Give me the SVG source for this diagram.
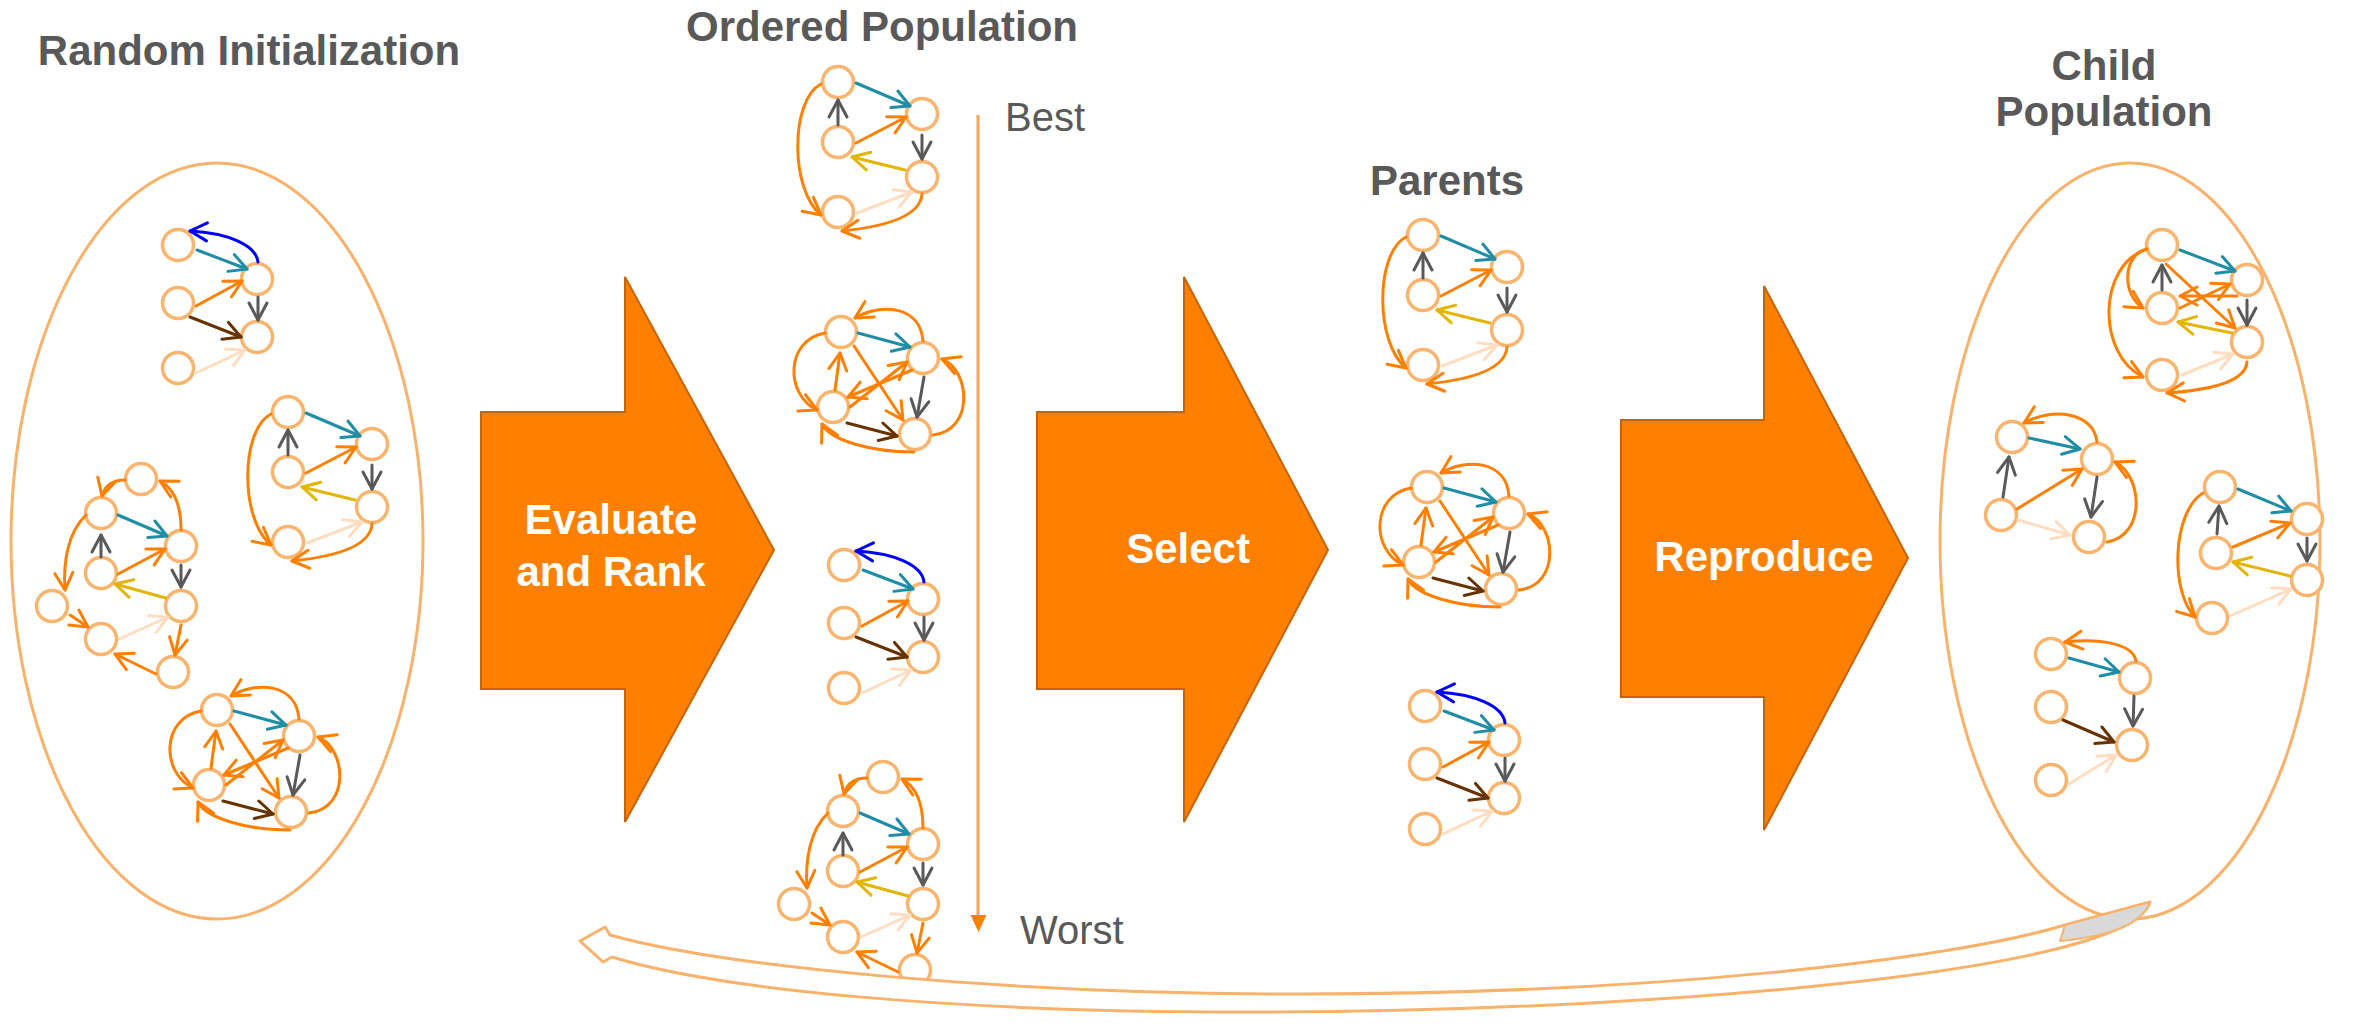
<svg xmlns="http://www.w3.org/2000/svg" xmlns:xlink="http://www.w3.org/1999/xlink" width="2374" height="1034" viewBox="0 0 2374 1034">
  <style>
    .title { font-family: "Liberation Sans", Arial, sans-serif; font-weight: bold; font-size: 42px; fill: #595959; }
    .rank { font-family: "Liberation Sans", Arial, sans-serif; font-size: 40px; fill: #595959; }
    .step { font-family: "Liberation Sans", Arial, sans-serif; font-weight: bold; font-size: 42px; fill: #ffffff; text-anchor: middle; }
    .pop { fill: none; stroke: #F9B26B; stroke-width: 3; }
    .n { fill: #ffffff; stroke: #F9B46E; stroke-width: 3.5; }
    .e { fill: none; stroke-width: 3; stroke-linecap: round; }
    .teal { stroke: #1F8DA5; marker-end: url(#m-teal); }
    .or { stroke: #FF8000; marker-end: url(#m-or); }
    .gray { stroke: #595959; marker-end: url(#m-gray); }
    .brown { stroke: #663300; marker-end: url(#m-brown); }
    .yel { stroke: #E3B505; marker-end: url(#m-yel); }
    .peach { stroke: #FFDDC1; marker-end: url(#m-peach); }
    .blue { stroke: #0000FF; marker-end: url(#m-blue); }
    .bigarrow { fill: #FF8000; stroke: #C86400; stroke-width: 2; }
  </style>
  <defs>
    <!-- open V arrowheads, one per edge colour -->
    <marker id="m-teal" viewBox="0 0 20 20" refX="18" refY="10" markerWidth="20" markerHeight="20" markerUnits="userSpaceOnUse" orient="auto" overflow="visible">
      <path d="M1,1 L18,10 L1,19" fill="none" stroke="#1F8DA5" stroke-width="3" stroke-linecap="round" stroke-linejoin="round"/>
    </marker>
    <marker id="m-or" viewBox="0 0 20 20" refX="18" refY="10" markerWidth="20" markerHeight="20" markerUnits="userSpaceOnUse" orient="auto" overflow="visible">
      <path d="M1,1 L18,10 L1,19" fill="none" stroke="#FF8000" stroke-width="3" stroke-linecap="round" stroke-linejoin="round"/>
    </marker>
    <marker id="m-gray" viewBox="0 0 20 20" refX="18" refY="10" markerWidth="20" markerHeight="20" markerUnits="userSpaceOnUse" orient="auto" overflow="visible">
      <path d="M1,1 L18,10 L1,19" fill="none" stroke="#595959" stroke-width="3" stroke-linecap="round" stroke-linejoin="round"/>
    </marker>
    <marker id="m-brown" viewBox="0 0 20 20" refX="18" refY="10" markerWidth="20" markerHeight="20" markerUnits="userSpaceOnUse" orient="auto" overflow="visible">
      <path d="M1,1 L18,10 L1,19" fill="none" stroke="#663300" stroke-width="3" stroke-linecap="round" stroke-linejoin="round"/>
    </marker>
    <marker id="m-yel" viewBox="0 0 20 20" refX="18" refY="10" markerWidth="20" markerHeight="20" markerUnits="userSpaceOnUse" orient="auto" overflow="visible">
      <path d="M1,1 L18,10 L1,19" fill="none" stroke="#E3B505" stroke-width="3" stroke-linecap="round" stroke-linejoin="round"/>
    </marker>
    <marker id="m-peach" viewBox="0 0 20 20" refX="18" refY="10" markerWidth="20" markerHeight="20" markerUnits="userSpaceOnUse" orient="auto" overflow="visible">
      <path d="M1,1 L18,10 L1,19" fill="none" stroke="#FFDDC1" stroke-width="3" stroke-linecap="round" stroke-linejoin="round"/>
    </marker>
    <marker id="m-blue" viewBox="0 0 20 20" refX="18" refY="10" markerWidth="20" markerHeight="20" markerUnits="userSpaceOnUse" orient="auto" overflow="visible">
      <path d="M1,1 L18,10 L1,19" fill="none" stroke="#0000FF" stroke-width="3" stroke-linecap="round" stroke-linejoin="round"/>
    </marker>

    <!-- genome A: five nodes, blue feedback arc -->
    <g id="genomeA">
      <circle class="n" cx="0" cy="0" r="15.5"/>
      <circle class="n" cx="79" cy="34" r="15.5"/>
      <circle class="n" cx="0" cy="58" r="15.5"/>
      <circle class="n" cx="79" cy="92" r="15.5"/>
      <circle class="n" cx="0" cy="123" r="15.5"/>
      <path class="e blue" d="M80,17 C78,0 50,-12 12,-14"/>
      <path class="e teal" d="M19,5 L69,24"/>
      <path class="e or" d="M18,61 L64,36"/>
      <path class="e gray" d="M80,52 L80,75"/>
      <path class="e brown" d="M12,72 L63,92"/>
      <path class="e peach" d="M18,128 L67,105"/>
    </g>

    <!-- genome B: five nodes with two outer loops -->
    <g id="genomeB">
      <circle class="n" cx="0" cy="0" r="15.5"/>
      <circle class="n" cx="84" cy="32" r="15.5"/>
      <circle class="n" cx="0" cy="60" r="15.5"/>
      <circle class="n" cx="84" cy="95" r="15.5"/>
      <circle class="n" cx="0" cy="130" r="15.5"/>
      <path class="e teal" d="M18,1 L72,24"/>
      <path class="e gray" d="M0,43 L0,18"/>
      <path class="e or" d="M18,61 L68,35"/>
      <path class="e gray" d="M84,53 L84,77"/>
      <path class="e yel" d="M67,88 L14,75"/>
      <path class="e peach" d="M19,131 L74,110"/>
      <path class="e or" d="M-17,2 C-48,18 -48,108 -17,133"/>
      <path class="e or" d="M84,112 C82,138 34,146 4,149"/>
    </g>

    <!-- genome C: four densely connected nodes -->
    <g id="genomeC">
      <circle class="n" cx="0" cy="0" r="15.5"/>
      <circle class="n" cx="82" cy="26" r="15.5"/>
      <circle class="n" cx="-8" cy="75" r="15.5"/>
      <circle class="n" cx="74" cy="102" r="15.5"/>
      <path class="e teal" d="M17,1 L69,15"/>
      <path class="e gray" d="M83,45 L76,85"/>
      <path class="e brown" d="M6,91 L56,104"/>
      <path class="e or" d="M13,14 L62,88"/>
      <path class="e or" d="M-6,58 L-1,21"/>
      <path class="e or" d="M9,75 L66,30"/>
      <path class="e or" d="M71,38 L7,65"/>
      <path class="e or" d="M82,9 C79,-27 39,-29 14,-14"/>
      <path class="e or" d="M-16,1 C-56,8 -56,63 -24,78"/>
      <path class="e or" d="M92,103 C134,98 129,38 101,27"/>
      <path class="e or" d="M73,120 C29,120 -11,108 -19,92"/>
    </g>

    <!-- genome D: eight nodes in a chain -->
    <g id="genomeD">
      <circle class="n" cx="40" cy="-34" r="15.5"/>
      <circle class="n" cx="0" cy="0" r="15.5"/>
      <circle class="n" cx="80" cy="33" r="15.5"/>
      <circle class="n" cx="0" cy="60" r="15.5"/>
      <circle class="n" cx="80" cy="93" r="15.5"/>
      <circle class="n" cx="-49" cy="93" r="15.5"/>
      <circle class="n" cx="0" cy="126" r="15.5"/>
      <circle class="n" cx="72" cy="159" r="15.5"/>
      <path class="e teal" d="M17,2 L66,23"/>
      <path class="e gray" d="M0,44 L0,22"/>
      <path class="e or" d="M17,61 L64,36"/>
      <path class="e gray" d="M80,52 L80,74"/>
      <path class="e yel" d="M65,85 L14,71"/>
      <path class="e peach" d="M18,126 L67,104"/>
      <path class="e or" d="M80,112 L74,142"/>
      <path class="e or" d="M55,161 L14,141"/>
      <path class="e or" d="M-31,102 L-13,114"/>
      <path class="e or" d="M-15,2 C-33,19 -38,49 -36,77"/>
      <path class="e or" d="M24,-33 C12,-33 4,-28 1,-17"/>
      <path class="e or" d="M80,17 C80,-11 72,-25 59,-32"/>
    </g>
  </defs>

  <rect width="2374" height="1034" fill="#ffffff"/>

  <!-- stage titles -->
  <text class="title" x="249" y="65" text-anchor="middle">Random Initialization</text>
  <text class="title" x="882" y="41" text-anchor="middle">Ordered Population</text>
  <text class="title" x="1447" y="195" text-anchor="middle">Parents</text>
  <text class="title" x="2104" y="80" text-anchor="middle">Child</text>
  <text class="title" x="2104" y="126" text-anchor="middle">Population</text>

  <!-- random initial population -->
  <g id="population-initial">
    <ellipse class="pop" cx="217" cy="541" rx="206" ry="378"/>
    <use href="#genomeA" x="178" y="245"/>
    <use href="#genomeB" x="288" y="412"/>
    <use href="#genomeD" x="101" y="513"/>
    <use href="#genomeC" x="217" y="710"/>
  </g>

  <!-- population ordered by fitness -->
  <g id="population-ordered">
    <use href="#genomeB" x="838" y="82"/>
    <use href="#genomeC" x="841" y="332"/>
    <use href="#genomeA" x="844" y="565"/>
    <use href="#genomeD" x="843" y="811"/>
    <text class="rank" x="1005" y="131">Best</text>
    <text class="rank" x="1020" y="944">Worst</text>
  </g>

  <!-- selected parents -->
  <g id="parents">
    <use href="#genomeB" x="1423" y="235"/>
    <use href="#genomeC" x="1427" y="487"/>
    <use href="#genomeA" x="1425" y="706"/>
  </g>

  <!-- offspring population -->
  <g id="population-child">
    <ellipse class="pop" cx="2130" cy="541" rx="190" ry="378"/>
    <!-- child 1 -->
    <g transform="translate(2162,245)">
      <circle class="n" cx="0" cy="0" r="15.5"/>
      <circle class="n" cx="85" cy="35" r="15.5"/>
      <circle class="n" cx="0" cy="63" r="15.5"/>
      <circle class="n" cx="85" cy="97" r="15.5"/>
      <circle class="n" cx="0" cy="130" r="15.5"/>
      <path class="e teal" d="M18,5 L73,26"/>
      <path class="e gray" d="M0,45 L0,20"/>
      <path class="e or" d="M4,19 L73,83"/>
      <path class="e or" d="M18,63 L68,39"/>
      <path class="e or" d="M75,51 L18,51"/>
      <path class="e gray" d="M85,55 L85,80"/>
      <path class="e yel" d="M70,88 L16,77"/>
      <path class="e peach" d="M20,130 L71,109"/>
      <path class="e or" d="M85,117 C83,140 35,146 5,148"/>
      <path class="e or" d="M-15,4 C-40,10 -40,50 -19,63"/>
      <path class="e or" d="M-15,4 C-65,20 -65,110 -19,132"/>
    </g>
    <!-- child 2 -->
    <g transform="translate(2012,437)">
      <circle class="n" cx="0" cy="0" r="15.5"/>
      <circle class="n" cx="85" cy="22" r="15.5"/>
      <circle class="n" cx="-11" cy="78" r="15.5"/>
      <circle class="n" cx="77" cy="100" r="15.5"/>
      <path class="e teal" d="M17,1 L68,12"/>
      <path class="e gray" d="M-9,60 L-3,20"/>
      <path class="e or" d="M5,72 L70,32"/>
      <path class="e gray" d="M85,40 L79,80"/>
      <path class="e peach" d="M6,83 L58,98"/>
      <path class="e or" d="M85,5 C82,-25 40,-30 12,-14"/>
      <path class="e or" d="M95,105 C135,98 130,38 103,25"/>
    </g>
    <!-- child 3 -->
    <g transform="translate(2220,487)">
      <circle class="n" cx="0" cy="0" r="15.5"/>
      <circle class="n" cx="87" cy="32" r="15.5"/>
      <circle class="n" cx="-4" cy="66" r="15.5"/>
      <circle class="n" cx="87" cy="93" r="15.5"/>
      <circle class="n" cx="-8" cy="131" r="15.5"/>
      <path class="e teal" d="M18,2 L71,24"/>
      <path class="e gray" d="M-3,47 L-1,19"/>
      <path class="e or" d="M13,60 L70,36"/>
      <path class="e gray" d="M87,51 L87,74"/>
      <path class="e yel" d="M70,89 L13,75"/>
      <path class="e peach" d="M10,129 L71,102"/>
      <path class="e or" d="M-17,6 C-48,25 -50,105 -25,130"/>
    </g>
    <!-- child 4 -->
    <g transform="translate(2051,654)">
      <circle class="n" cx="0" cy="0" r="15.5"/>
      <circle class="n" cx="84" cy="24" r="15.5"/>
      <circle class="n" cx="0" cy="53" r="15.5"/>
      <circle class="n" cx="81" cy="91" r="15.5"/>
      <circle class="n" cx="0" cy="126" r="15.5"/>
      <path class="e or" d="M85,7 C82,-10 50,-16 14,-12"/>
      <path class="e teal" d="M18,4 L68,18"/>
      <path class="e gray" d="M83,42 L82,72"/>
      <path class="e brown" d="M12,66 L63,88"/>
      <path class="e peach" d="M18,130 L65,101"/>
    </g>
  </g>

  <!-- process steps -->
  <g id="step-evaluate">
    <path class="bigarrow" d="M481,412 L625,412 L625,277 L774,550 L625,822 L625,689 L481,689 Z"/>
    <text class="step" x="611" y="534">Evaluate</text>
    <text class="step" x="611" y="586">and Rank</text>
  </g>
  <g id="step-select">
    <path class="bigarrow" d="M1037,412 L1184,412 L1184,277 L1328,550 L1184,822 L1184,689 L1037,689 Z"/>
    <text class="step" x="1188" y="563">Select</text>
  </g>
  <g id="step-reproduce">
    <path class="bigarrow" d="M1621,420 L1764,420 L1764,286 L1908,558 L1764,830 L1764,697 L1621,697 Z"/>
    <text class="step" x="1764" y="571">Reproduce</text>
  </g>

  <!-- connectors -->
  <g id="connectors">
    <!-- fitness order axis -->
    <line x1="978" y1="115" x2="978" y2="918" stroke="#F8A457" stroke-width="3"/>
    <polygon points="970.5,915 986.5,915 978.5,932" fill="#FF8000"/>
    <!-- next generation loop back -->
    <path d="M580,941 L605,927 L610,935 C720,966 1000,994 1300,994 C1650,994 1950,960 2065,925 L2150,902 C2130,972 1650,1012 1250,1012 C950,1012 720,990 612,957 L603,962 Z" fill="#ffffff" stroke="#F9B26B" stroke-width="3" stroke-linejoin="round"/>
    <path d="M2065,925 L2150,902 C2142,924 2112,936 2060,941 Z" fill="#D9D9D9" stroke="#F9B26B" stroke-width="2" stroke-linejoin="round"/>
  </g>
</svg>
